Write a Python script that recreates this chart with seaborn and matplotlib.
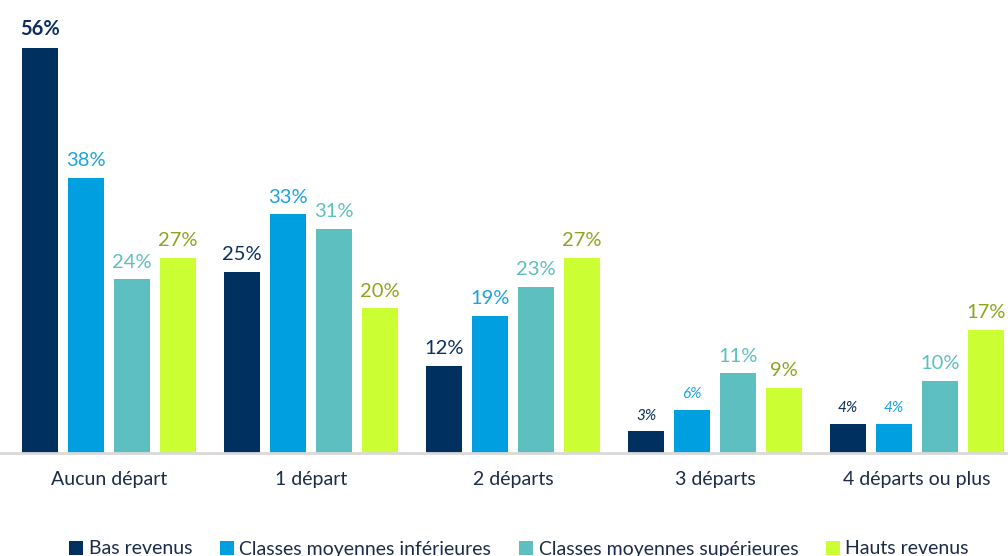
import pandas as pd
import matplotlib.pyplot as plt
import seaborn as sns

# Data
categories = ['Aucun départ', '1 départ', '2 départs', '3 départs', '4 départs ou plus']
groups = ['Bas revenus', 'Classes moyennes inférieures',
          'Classes moyennes supérieures', 'Hauts revenus']
bas = [56, 25, 12, 3, 4]
moy_inf = [38, 33, 19, 6, 4]
moy_sup = [24, 31, 23, 11, 10]
hauts = [27, 20, 27, 9, 17]

bar_colors = ['#00305F', '#009FE0', '#5DBFBF', '#CCFF33']
label_colors = ['#0B2F5E', '#1AA3E2', '#5DBFBF', '#8BA61C']

rows = []
for g, vals in zip(groups, [bas, moy_inf, moy_sup, hauts]):
    for c, v in zip(categories, vals):
        rows.append({'categorie': c, 'groupe': g, 'part': v})
df = pd.DataFrame(rows)

sns.set_style('white')
plt.rcParams['font.family'] = ['Lato', 'DejaVu Sans']

fig = plt.figure(figsize=(10.08, 5.56), dpi=100)
ax = fig.add_axes([0, (556 - 453) / 556, 1, 453 / 556])

sns.barplot(data=df, x='categorie', y='part', hue='groupe', order=categories,
            hue_order=groups, palette=bar_colors, width=0.91, gap=0.22,
            saturation=1, edgecolor='none', ax=ax)

ax.set_xlim(-0.54, 4.45)
ax.set_ylim(0, 62.6)

# value labels
for i, cont in enumerate(ax.containers):
    for j, bar in enumerate(cont):
        v = [bas, moy_inf, moy_sup, hauts][i][j]
        x = bar.get_x() + bar.get_width() / 2
        kw = dict(ha='center', va='bottom', color=label_colors[i], fontsize=14.5)
        if v == max(bas):
            kw['fontweight'] = 'bold'
        elif i < 2 and v < 7:
            kw['fontsize'] = 11
            kw['fontstyle'] = 'italic'
        ax.text(x, v + 1.2, f'{v}%', **kw)

ax.set_xlabel('')
ax.set_ylabel('')
ax.set_yticks([])
ax.tick_params(axis='x', length=0, pad=13, labelsize=14, labelcolor='#1C2B4A')
for s in ['top', 'right', 'left']:
    ax.spines[s].set_visible(False)
ax.spines['bottom'].set_color('#D9D9D9')
ax.spines['bottom'].set_linewidth(2)

handles, labels = ax.get_legend_handles_labels()
ax.get_legend().remove()
fig.legend(handles, labels, loc='center', bbox_to_anchor=(0.515, 1 - 549 / 556),
           ncol=4, frameon=False, fontsize=14, handlelength=0.7,
           handleheight=0.7, handletextpad=0.3, columnspacing=1.43,
           labelcolor='#1C2B4A')

fig.savefig('out.png', dpi=100)
